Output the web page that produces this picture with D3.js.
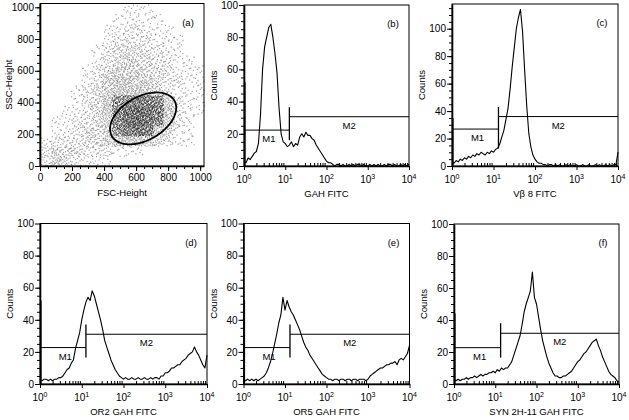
<!DOCTYPE html>
<html><head><meta charset="utf-8">
<script src="https://cdn.jsdelivr.net/npm/d3@7"></script>
<style>
body{margin:0;background:#fff}
svg{display:block}
text{font-family:"Liberation Sans",Arial,Helvetica,sans-serif;fill:#000}
</style>
</head><body>
<svg id="chart" width="629" height="420"></svg>
<script>
// ---------------- DATA ----------------
// Panel (a): scatter density (dots per cell ~ density*7)
const fscBinLow = [0,64,128,192,256,320,384,448,512,576,640,704,768,832,896,960];
const sscBinLow = [960,896,832,768,704,640,576,512,448,384,320,256,192,128,64,0];
const scatterDensity = [
  [0,0,0,0,0,0,0,0,1,1,1,0,0,0,0,0],
  [0,0,0,0,0,0,0,1,1,1,1,1,0,0,0,0],
  [0,0,0,0,0,0,1,1,2,2,1,1,1,0,0,0],
  [0,0,0,0,0,0,1,2,2,2,2,1,1,1,0,0],
  [0,0,0,0,0,1,2,3,3,3,2,2,1,1,0,0],
  [0,0,0,0,0,1,2,3,4,3,3,2,2,1,1,0],
  [0,0,0,0,1,2,3,4,4,4,3,3,2,1,1,1],
  [0,0,0,0,1,2,4,5,5,4,4,3,2,2,1,1],
  [0,0,0,1,2,3,4,5,5,5,4,3,2,1,1,1],
  [0,0,0,1,2,3,5,6,7,8,8,7,4,2,1,1],
  [0,0,1,1,2,3,5,7,9,10,9,8,5,2,1,1],
  [0,1,1,2,2,3,4,7,9,10,9,7,4,2,1,0],
  [0,1,1,2,3,3,4,6,8,9,8,5,3,1,1,0],
  [1,2,2,2,3,3,4,5,5,5,4,3,2,1,1,0],
  [2,4,3,3,2,2,2,1,1,1,0,0,0,0,0,0],
  [2,4,3,2,1,1,1,0,0,0,0,0,0,0,0,0]
];
const gateCenter = [644, 300];     // FSC, SSC
const gateSemiAxes = [225, 137];   // data units
const gateAngleDeg = 30;

const scatterTicks = [0,200,400,600,800,1000];
const countTicks = [0,20,40,60,80,100];
const logTicks = [1,10,100,1000,10000];

// Histograms (b)-(f): counts at log10 channel 0.00, 0.05, ... 4.00
const channelLog = d3.range(81).map(i => i / 20);
const countsB = [3,2,5,4,6,8,9,14,32,60, 74,80,86,88,80,70,58,36,20,15, 14,12,13,15,12,14,13,18,20,18, 21,19,19,17,16,13,11,9,7,5, 3,2,2,1,0,1,1,0,1,0, 0,1,0,1,0,1,1,0,1,0, 0,1,0,1,0,1,0,0,1,0, 1,1,0,1,0,0,1,0,1,0,1];
const countsC = [3,2,4,3,5,4,6,5,7,6, 8,7,9,8,10,9,8,10,9,11, 10,12,13,16,21,26,34,42,56,72, 86,100,108,114,98,70,44,24,14,8, 5,3,2,2,1,1,0,1,1,0, 1,0,1,0,0,1,0,1,0,0, 1,0,0,1,0,0,1,0,0,1, 0,1,0,0,1,0,1,0,1,1,10];
const countsD = [3,2,3,3,2,3,2,3,3,4, 4,5,7,9,10,13,15,22,27,32, 40,46,51,54,52,58,55,50,45,40, 34,27,23,19,15,12,9,7,5,4, 3,4,3,3,4,3,3,4,3,3, 4,3,3,4,3,4,4,3,5,5, 7,7,8,10,10,11,12,12,14,15, 16,18,19,20,23,20,18,15,12,10,18];
const countsE = [3,2,3,2,3,2,3,2,3,4, 5,7,10,14,19,25,31,38,43,54, 46,52,48,45,43,40,37,34,30,26, 23,21,18,16,14,12,10,8,6,5, 4,3,3,2,3,3,2,3,3,2, 3,3,2,3,3,2,3,3,3,2, 3,5,6,7,8,9,10,10,11,12, 12,13,13,14,12,15,16,15,17,19,24];
const countsF = [3,2,3,2,3,3,4,3,4,4, 5,4,5,6,5,6,6,7,7,8, 7,9,8,10,9,10,10,12,14,18, 22,26,30,37,45,50,54,58,70,54, 50,42,34,27,22,17,13,10,7,5, 5,4,4,5,5,6,7,8,10,12, 14,15,17,19,20,22,24,26,27,28, 24,21,17,14,11,8,6,5,4,2,1];
const firstChannelSpike = [52,35,52,52,44];

const panelLetters = ["(b)","(c)","(d)","(e)","(f)"];
const histXTitles = ["GAH FITC","V\u03b2 8 FITC","OR2 GAH FITC","OR5 GAH FITC","SYN 2H-11 GAH FITC"];
const histYMax = [100,118,100,100,100];
const markerSplitLog = [1.10,1.12,1.10,1.12,1.13];
const markerM1Height = [22.3,26.9,22.7,22.7,22.7];
const markerM2Height = [30.6,36,31,31,31.7];
const markerBarLow = [16,12.7,16.5,16.5,16.5];
const markerBarHigh = [36.5,43,37,37,38];

// ---------------- LAYOUT ----------------
const svg = d3.select("#chart");
const TICK_FS = 10, TITLE_FS = 9.5, LABEL_FS = 9.5;

function frame(g, b) {
  g.append("rect").attr("x", b.x0).attr("y", b.y0)
   .attr("width", b.x1 - b.x0).attr("height", b.y1 - b.y0)
   .attr("fill", "none").attr("stroke", "#000").attr("stroke-width", 1);
}
function styleAxis(sel, w) {
  sel.selectAll("path.domain").attr("stroke", "#000").attr("stroke-width", w);
  sel.selectAll(".tick line").attr("stroke", "#000").attr("stroke-width", 1);
  sel.selectAll("text").attr("font-size", TICK_FS).attr("fill", "#000")
     .style("font-family", '"Liberation Sans",Arial,sans-serif');
}

// ---------- Panel (a) ----------
(function () {
  const b = {x0: 40, x1: 204, y0: 3.5, y1: 166};
  const g = svg.append("g");
  const xs = d3.scaleLinear().domain([0, 1024]).range([b.x0, b.x1]);
  const ys = d3.scaleLinear().domain([0, 1024]).range([b.y1, b.y0]);

  // deterministic (low-discrepancy) placement of dots inside each density cell
  function halton(i, base) { let f = 1, r = 0; while (i > 0) { f /= base; r += f * (i % base); i = Math.floor(i / base); } return r; }
  const pts = [];
  let idx = 1;
  scatterDensity.forEach((row, r) => row.forEach((d, c) => {
    const n = d * 7;
    for (let k = 0; k < n; k++, idx++) {
      pts.push([fscBinLow[c] + halton(idx, 2) * 64, sscBinLow[r] + halton(idx, 3) * 64, d]);
    }
  }));
  g.append("g").selectAll("rect").data(pts).join("rect")
    .attr("x", d => xs(d[0])).attr("y", d => ys(d[1]))
    .attr("width", 1.2).attr("height", 1.2)
    .attr("fill", d => d[2] >= 6 ? "#111" : "#444").attr("opacity", d => d[2] >= 6 ? 0.75 : 0.5);

  // gate
  const th = gateAngleDeg * Math.PI / 180;
  const ell = d3.range(0, 360, 4).map(a => {
    const t = a * Math.PI / 180;
    const u = gateSemiAxes[0] * Math.cos(t), v = gateSemiAxes[1] * Math.sin(t);
    return [xs(gateCenter[0] + u * Math.cos(th) - v * Math.sin(th)),
            ys(gateCenter[1] + u * Math.sin(th) + v * Math.cos(th))];
  });
  g.append("path").attr("d", d3.line().curve(d3.curveCardinalClosed)(ell))
    .attr("fill", "none").attr("stroke", "#000").attr("stroke-width", 1.8);

  frame(g, b);
  // axes
  const ax = g.append("g").attr("transform", `translate(0,${b.y1})`)
    .call(d3.axisBottom(xs).tickValues(scatterTicks).tickFormat(d3.format("d")).tickSize(5).tickSizeOuter(0).tickPadding(3));
  styleAxis(ax, 1.6);
  const axm = g.append("g").attr("transform", `translate(0,${b.y1})`)
    .call(d3.axisBottom(xs).tickValues(d3.range(0, 1024, 50)).tickSize(3).tickSizeOuter(0).tickFormat(""));
  axm.select("path.domain").remove(); styleAxis(axm, 1);
  const ay = g.append("g").attr("transform", `translate(${b.x0},0)`)
    .call(d3.axisLeft(ys).tickValues(scatterTicks).tickFormat(d3.format("d")).tickSize(5).tickSizeOuter(0).tickPadding(1));
  styleAxis(ay, 1.6);
  const aym = g.append("g").attr("transform", `translate(${b.x0},0)`)
    .call(d3.axisLeft(ys).tickValues(d3.range(0, 1024, 50)).tickSize(3).tickSizeOuter(0).tickFormat(""));
  aym.select("path.domain").remove(); styleAxis(aym, 1);

  g.append("text").attr("x", (b.x0 + b.x1) / 2).attr("y", b.y1 + 30).attr("text-anchor", "middle")
    .attr("font-size", TITLE_FS).text("FSC-Height");
  g.append("text").attr("transform", `translate(${b.x0 - 28},${(b.y0 + b.y1) / 2}) rotate(-90)`)
    .attr("text-anchor", "middle").attr("font-size", TITLE_FS).text("SSC-Height");
  g.append("text").attr("x", b.x1 - 16).attr("y", b.y0 + 22).attr("text-anchor", "middle")
    .attr("font-size", LABEL_FS).text("(a)");
})();

// ---------- Histograms ----------
const histBoxes = [
  {x0: 244, x1: 409, y0: 5, y1: 166},
  {x0: 452, x1: 618, y0: 4, y1: 166},
  {x0: 40, x1: 207, y0: 223.5, y1: 384},
  {x0: 243.5, x1: 409.5, y0: 223.5, y1: 384},
  {x0: 454, x1: 619, y0: 224, y1: 384}
];
const histCounts = [countsB, countsC, countsD, countsE, countsF];

histBoxes.forEach((b, p) => {
  const g = svg.append("g");
  const xs = d3.scaleLog().domain([1, 1e4]).range([b.x0, b.x1]);
  const ys = d3.scaleLinear().domain([0, histYMax[p]]).range([b.y1, b.y0]);
  const counts = histCounts[p];

  // histogram trace
  g.append("path")
    .attr("d", d3.line().x((d, i) => xs(Math.pow(10, channelLog[i]))).y(d => ys(d))(counts))
    .attr("fill", "none").attr("stroke", "#000").attr("stroke-width", 1.1).attr("stroke-linejoin", "round");
  g.append("line").attr("x1", xs(1) + 1).attr("x2", xs(1) + 1)
    .attr("y1", ys(0)).attr("y2", ys(firstChannelSpike[p]))
    .attr("stroke", "#000").attr("stroke-width", 1.2);

  // markers
  const sx = xs(Math.pow(10, markerSplitLog[p]));
  g.append("line").attr("x1", xs(1)).attr("x2", sx)
    .attr("y1", ys(markerM1Height[p])).attr("y2", ys(markerM1Height[p]))
    .attr("stroke", "#000").attr("stroke-width", 1);
  g.append("line").attr("x1", sx).attr("x2", xs(1e4))
    .attr("y1", ys(markerM2Height[p])).attr("y2", ys(markerM2Height[p]))
    .attr("stroke", "#000").attr("stroke-width", 1);
  g.append("line").attr("x1", sx).attr("x2", sx)
    .attr("y1", ys(markerBarLow[p])).attr("y2", ys(markerBarHigh[p]))
    .attr("stroke", "#000").attr("stroke-width", 1.3);
  g.append("text").attr("x", xs(Math.pow(10, markerSplitLog[p] * 0.55)))
    .attr("y", ys(markerM1Height[p]) + 12).attr("text-anchor", "middle")
    .attr("font-size", LABEL_FS).text("M1");
  g.append("text").attr("x", xs(Math.pow(10, (markerSplitLog[p] + 4) / 2)))
    .attr("y", ys(markerM2Height[p]) + 12).attr("text-anchor", "middle")
    .attr("font-size", LABEL_FS).text("M2");

  frame(g, b);

  // x axis (log)
  const ax = g.append("g").attr("transform", `translate(0,${b.y1})`)
    .call(d3.axisBottom(xs).tickValues(logTicks).tickSize(4).tickSizeOuter(0).tickFormat(""));
  styleAxis(ax, 1.6);
  const minor = [];
  [1, 10, 100, 1000].forEach(dec => d3.range(2, 10).forEach(m => minor.push(dec * m)));
  const axm = g.append("g").attr("transform", `translate(0,${b.y1})`)
    .call(d3.axisBottom(xs).tickValues(minor).tickSize(-3).tickSizeOuter(0).tickFormat(""));
  axm.select("path.domain").remove(); styleAxis(axm, 1);
  logTicks.forEach((v, i) => {
    const t = g.append("text").attr("x", xs(v)).attr("y", b.y1 + 17)
      .attr("text-anchor", "middle").attr("font-size", TICK_FS);
    t.append("tspan").text("10");
    t.append("tspan").attr("dy", -4).attr("font-size", 7).text(String(i));
  });

  // y axis
  const ay = g.append("g").attr("transform", `translate(${b.x0},0)`)
    .call(d3.axisLeft(ys).tickValues(countTicks).tickSize(5).tickSizeOuter(0).tickPadding(1));
  styleAxis(ay, 1.6);
  const aym = g.append("g").attr("transform", `translate(${b.x0},0)`)
    .call(d3.axisLeft(ys).tickValues(d3.range(0, histYMax[p], 5)).tickSize(3).tickSizeOuter(0).tickFormat(""));
  aym.select("path.domain").remove(); styleAxis(aym, 1);

  g.append("text").attr("x", (b.x0 + b.x1) / 2).attr("y", b.y1 + 31).attr("text-anchor", "middle")
    .attr("font-size", TITLE_FS).text(histXTitles[p]);
  g.append("text").attr("transform", `translate(${b.x0 - 27},${(b.y0 + b.y1) / 2}) rotate(-90)`)
    .attr("text-anchor", "middle").attr("font-size", TITLE_FS).text("Counts");
  g.append("text").attr("x", b.x1 - 16).attr("y", b.y0 + 22).attr("text-anchor", "middle")
    .attr("font-size", LABEL_FS).text(panelLetters[p]);
});
</script>
</body></html>
